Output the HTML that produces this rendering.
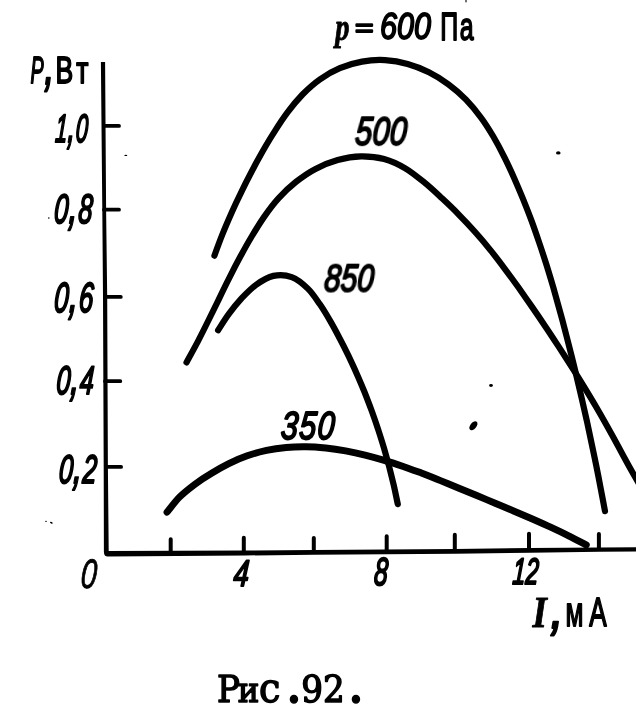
<!DOCTYPE html>
<html lang="ru"><head><meta charset="utf-8"><title>Рис.92</title>
<style>html,body{margin:0;padding:0;background:#fff;}svg{display:block}</style>
</head><body>
<svg width="636" height="723" viewBox="0 0 636 723">
<rect width="636" height="723" fill="#fff"/>
<g fill="#000" stroke="none">
<path d="M100.9 62 L105.1 62 L106.1 209 L107.2 297 L107.9 467 L108.7 551 L245 550.5 L314 550 L385 549.5 L455 549 L530 548.1 L600 547.4 L636 547.2 L636 551.6 L600 551.8 L530 552.8 L455 553.7 L385 554.2 L314 554.7 L245 555.5 L108 556.6 Q104 556.8 103.9 552 L103.7 467 L103 297 L102.3 209 Z"/>
</g>
<g stroke="#000" fill="none" stroke-linecap="round" stroke-linejoin="miter">
<path d="M104 125.9 H119 M104 209.7 H119 M105 296.9 H120.8 M105 381.2 H120.3 M106 466.9 H121.1" stroke-width="3.8"/>
<path d="M170.7 539.3 V553 M243.8 537.8 V553 M313.8 538.1 V552 M386.7 536.3 V551 M454.8 534.8 V551 M529 533.8 V550 M598.9 534 V549" stroke-width="4"/>
</g>
<g stroke="#000" fill="none" stroke-linecap="round" stroke-linejoin="round">
<path d="M214.4 255.7 C215.7 252.1 219.6 241.2 222.5 234.1 C225.3 227.0 228.4 219.9 231.5 212.9 C234.6 205.9 237.9 199.0 241.3 192.1 C244.6 185.2 248.1 178.3 251.7 171.5 C255.2 164.7 258.9 157.9 262.7 151.2 C266.6 144.5 270.5 137.9 274.7 131.4 C278.8 124.9 283.1 118.3 287.7 112.2 C292.3 106.0 297.2 100.0 302.5 94.5 C307.9 89.1 313.6 83.9 319.8 79.5 C326.0 75.1 332.7 71.2 339.8 68.2 C346.8 65.2 354.5 62.9 362.0 61.6 C369.6 60.2 377.5 59.7 385.1 60.1 C392.7 60.5 400.3 61.8 407.6 63.9 C414.9 65.9 422.1 68.8 428.9 72.2 C435.8 75.6 442.4 79.8 448.6 84.4 C454.8 88.9 460.6 94.1 466.0 99.6 C471.3 105.1 476.2 111.0 480.7 117.2 C485.3 123.3 489.4 129.9 493.3 136.5 C497.2 143.1 500.8 150.0 504.2 156.9 C507.7 163.8 510.9 170.8 514.1 177.9 C517.2 184.9 520.2 192.0 523.1 199.1 C526.0 206.3 528.8 213.4 531.5 220.6 C534.1 227.8 536.7 235.1 539.1 242.4 C541.6 249.6 544.0 257.0 546.3 264.3 C548.6 271.6 550.8 279.0 553.0 286.4 C555.1 293.8 557.2 301.2 559.2 308.6 C561.3 316.0 563.3 323.4 565.2 330.9 C567.1 338.3 569.1 345.8 570.9 353.3 C572.8 360.7 574.6 368.2 576.4 375.7 C578.2 383.2 580.0 390.7 581.7 398.2 C583.4 405.7 585.1 413.2 586.8 420.7 C588.4 428.2 590.0 435.7 591.6 443.3 C593.2 450.8 594.8 458.3 596.3 465.9 C597.8 473.4 599.3 481.0 600.7 488.5 C602.2 496.1 604.3 507.4 605.0 511.2" stroke-width="6.2"/>
<path d="M186.5 362.4 C188.4 358.9 194.1 348.6 197.8 341.6 C201.4 334.6 204.9 327.6 208.4 320.5 C211.9 313.5 215.3 306.4 218.8 299.3 C222.2 292.2 225.6 285.1 229.2 278.1 C232.7 271.1 236.3 264.1 240.1 257.1 C243.8 250.2 247.6 243.3 251.7 236.5 C255.7 229.8 259.8 223.0 264.3 216.6 C268.8 210.1 273.5 203.8 278.7 198.1 C284.0 192.3 289.7 186.8 295.8 182.0 C302.0 177.1 308.5 172.5 315.5 168.9 C322.5 165.2 330.1 162.1 337.7 160.0 C345.3 157.9 353.3 156.5 361.1 156.3 C368.8 156.2 376.7 156.9 384.1 158.9 C391.5 160.9 398.6 164.3 405.3 168.3 C412.1 172.3 418.4 177.6 424.6 182.7 C430.8 187.7 436.6 193.3 442.3 198.6 C448.1 204.0 453.6 209.2 459.0 214.8 C464.5 220.3 469.9 226.1 475.1 232.0 C480.4 237.9 485.5 243.9 490.4 250.1 C495.4 256.2 500.1 262.5 504.8 268.8 C509.5 275.0 514.1 281.4 518.7 287.8 C523.2 294.2 527.7 300.7 532.2 307.1 C536.7 313.6 541.1 320.1 545.5 326.7 C549.9 333.2 554.2 339.8 558.5 346.4 C562.8 353.0 567.1 359.6 571.3 366.2 C575.5 372.9 579.7 379.5 583.8 386.3 C587.9 393.0 592.0 399.7 595.9 406.5 C599.9 413.3 603.8 420.2 607.6 427.0 C611.4 433.9 615.2 440.8 619.0 447.7 C622.7 454.7 626.5 461.6 630.3 468.5 C634.1 475.3 640.1 485.6 642.0 489.0" stroke-width="6.2"/>
<path d="M218.1 330.2 C219.9 327.5 225.0 319.1 228.9 313.9 C232.7 308.7 236.6 303.8 241.1 298.9 C245.7 294.1 250.8 288.6 256.2 284.8 C261.5 281.0 267.5 277.2 273.4 275.9 C279.3 274.6 286.0 275.0 291.7 277.1 C297.4 279.2 302.9 283.8 307.6 288.4 C312.3 292.9 316.1 298.9 319.9 304.3 C323.7 309.8 327.0 315.4 330.3 321.1 C333.6 326.7 336.6 332.5 339.6 338.2 C342.7 344.0 345.6 349.8 348.4 355.7 C351.2 361.6 354.0 367.5 356.6 373.5 C359.3 379.5 361.8 385.5 364.3 391.5 C366.7 397.6 369.1 403.7 371.3 409.8 C373.6 416.0 375.7 422.2 377.8 428.4 C379.8 434.6 381.8 440.8 383.7 447.1 C385.5 453.4 387.3 459.7 389.0 466.0 C390.6 472.3 392.2 478.7 393.7 485.0 C395.2 491.4 397.1 501.0 397.8 504.2" stroke-width="6.2"/>
<path d="M167.0 512.2 C169.1 509.6 175.1 501.6 179.7 496.9 C184.4 492.3 189.7 488.2 195.0 484.2 C200.3 480.3 205.9 476.7 211.6 473.3 C217.2 469.8 222.9 466.5 228.8 463.6 C234.8 460.6 240.9 458.0 247.2 455.8 C253.5 453.6 260.0 451.8 266.5 450.4 C273.0 449.0 279.6 448.1 286.2 447.5 C292.8 446.9 299.4 446.7 306.0 446.8 C312.6 446.9 319.2 447.4 325.8 448.0 C332.4 448.7 339.0 449.7 345.6 450.9 C352.1 452.1 358.6 453.5 365.1 455.1 C371.5 456.7 377.9 458.5 384.3 460.4 C390.7 462.3 397.0 464.4 403.2 466.5 C409.5 468.7 415.7 471.0 422.0 473.3 C428.2 475.7 434.4 478.1 440.5 480.6 C446.7 483.1 452.8 485.6 459.0 488.2 C465.1 490.7 471.3 493.3 477.4 495.8 C483.5 498.4 489.7 500.9 495.8 503.5 C501.9 506.0 508.1 508.6 514.2 511.2 C520.3 513.8 526.4 516.4 532.4 519.0 C538.5 521.7 544.6 524.4 550.6 527.2 C556.6 530.0 562.6 532.8 568.6 535.8 C574.5 538.7 583.3 543.4 586.3 544.9" stroke-width="6.9"/>
</g>
<g fill="#000">
<ellipse cx="558.3" cy="152.9" rx="2.3" ry="1.7"/>
<ellipse cx="491.0" cy="385.5" rx="1.9" ry="1.4"/>
<ellipse cx="473.4" cy="425.7" rx="5.2" ry="3.0" transform="rotate(-50 473.4 425.7)"/>
<ellipse cx="125.8" cy="155.4" rx="1.5" ry="0.6"/>
<ellipse cx="48.8" cy="218.0" rx="0.8" ry="0.7"/>
<ellipse cx="46.0" cy="521.2" rx="1.0" ry="0.5"/>
<ellipse cx="51.4" cy="522.7" rx="1.5" ry="0.8" transform="rotate(25 51.4 522.7)"/>
<ellipse cx="466.0" cy="1.0" rx="0.6" ry="1.5"/>
</g>
<g fill="#000" opacity="0.999">
<text transform="translate(54.65 141.50) scale(0.549 1) skewX(-6.0)" font-family='"Liberation Sans", sans-serif' font-size="39.52" font-style="italic" font-weight="normal" stroke="#000" stroke-width="1.80" vector-effect="non-scaling-stroke" stroke-linejoin="round">1<tspan style="font-size:140%">,</tspan>0</text>
<text transform="translate(53.62 222.80) scale(0.618 1) skewX(-6.0)" font-family='"Liberation Sans", sans-serif' font-size="41.17" font-style="italic" font-weight="normal" stroke="#000" stroke-width="1.80" vector-effect="non-scaling-stroke" stroke-linejoin="round">0<tspan style="font-size:140%">,</tspan>8</text>
<text transform="translate(53.60 312.40) scale(0.618 1) skewX(-6.0)" font-family='"Liberation Sans", sans-serif' font-size="42.00" font-style="italic" font-weight="normal" stroke="#000" stroke-width="1.80" vector-effect="non-scaling-stroke" stroke-linejoin="round">0<tspan style="font-size:140%">,</tspan>6</text>
<text transform="translate(55.65 393.70) scale(0.629 1) skewX(-6.0)" font-family='"Liberation Sans", sans-serif' font-size="39.86" font-style="italic" font-weight="normal" stroke="#000" stroke-width="1.80" vector-effect="non-scaling-stroke" stroke-linejoin="round">0<tspan style="font-size:140%">,</tspan>4</text>
<text transform="translate(58.15 483.00) scale(0.636 1) skewX(-6.0)" font-family='"Liberation Sans", sans-serif' font-size="39.86" font-style="italic" font-weight="normal" stroke="#000" stroke-width="1.80" vector-effect="non-scaling-stroke" stroke-linejoin="round">0<tspan style="font-size:140%">,</tspan>2</text>
<text transform="translate(79.96 587.92) scale(0.696 1) skewX(-6.0)" font-family='"Liberation Sans", sans-serif' font-size="41.23" font-style="italic" font-weight="normal" stroke="#000" stroke-width="0.80" vector-effect="non-scaling-stroke" stroke-linejoin="round">0</text>
<text transform="translate(232.94 585.68) scale(0.738 1) skewX(-6.0)" font-family='"Liberation Sans", sans-serif' font-size="37.11" font-style="italic" font-weight="normal" stroke="#000" stroke-width="1.80" vector-effect="non-scaling-stroke" stroke-linejoin="round">4</text>
<text transform="translate(373.61 585.24) scale(0.630 1) skewX(-6.0)" font-family='"Liberation Sans", sans-serif' font-size="38.95" font-style="italic" font-weight="normal" stroke="#000" stroke-width="1.80" vector-effect="non-scaling-stroke" stroke-linejoin="round">8</text>
<text transform="translate(511.99 583.84) scale(0.630 1) skewX(-6.0)" font-family='"Liberation Sans", sans-serif' font-size="36.89" font-style="italic" font-weight="normal" stroke="#000" stroke-width="1.80" vector-effect="non-scaling-stroke" stroke-linejoin="round">12</text>
<text transform="translate(354.49 145.28) scale(0.754 1) skewX(-6.0)" font-family='"Liberation Sans", sans-serif' font-size="40.53" font-style="italic" font-weight="normal" letter-spacing="0.010em" stroke="#000" stroke-width="1.80" vector-effect="non-scaling-stroke" stroke-linejoin="round">500</text>
<text transform="translate(323.57 291.71) scale(0.770 1) skewX(-6.0)" font-family='"Liberation Sans", sans-serif' font-size="38.42" font-style="italic" font-weight="normal" stroke="#000" stroke-width="1.80" vector-effect="non-scaling-stroke" stroke-linejoin="round">850</text>
<text transform="translate(280.36 438.93) scale(0.778 1) skewX(-6.0)" font-family='"Liberation Sans", sans-serif' font-size="39.14" font-style="italic" font-weight="normal" letter-spacing="0.040em" stroke="#000" stroke-width="1.80" vector-effect="non-scaling-stroke" stroke-linejoin="round">350</text>
<text font-family='"Liberation Sans", sans-serif' font-size="20"><tspan x="30.49" y="82.64" font-family='"Liberation Sans", sans-serif' font-size="36.87" font-style="italic" font-weight="normal" textLength="13.14" lengthAdjust="spacingAndGlyphs" stroke="#000" stroke-width="1.80" stroke-linejoin="round">P</tspan><tspan x="43.83" y="84.02" font-family='"Liberation Sans", sans-serif' font-size="59.41" font-style="italic" font-weight="normal" textLength="11.24" lengthAdjust="spacingAndGlyphs" stroke="#000" stroke-width="1.80" stroke-linejoin="round">,</tspan><tspan x="55.61" y="82.80" font-family='"Liberation Sans", sans-serif' font-size="36.57" font-style="normal" font-weight="normal" letter-spacing="0.140em" textLength="36.47" lengthAdjust="spacingAndGlyphs" stroke="#000" stroke-width="1.80" stroke-linejoin="round">Вт</tspan></text>
<text font-family='"Liberation Sans", sans-serif' font-size="20"><tspan x="335.23" y="40.20" font-family='"Liberation Serif", serif' font-size="38.66" font-style="italic" font-weight="bold" textLength="14.26" lengthAdjust="spacingAndGlyphs" stroke="#000" stroke-width="0.90" stroke-linejoin="round">p</tspan> <tspan x="355.03" y="36.04" font-family='"Liberation Sans", sans-serif' font-size="24.14" font-style="normal" font-weight="normal" textLength="18.55" lengthAdjust="spacingAndGlyphs" stroke="#000" stroke-width="1.80" stroke-linejoin="round">=</tspan> <tspan x="380.03" y="38.82" font-family='"Liberation Sans", sans-serif' font-size="37.47" font-style="italic" font-weight="normal" textLength="50.97" lengthAdjust="spacingAndGlyphs" stroke="#000" stroke-width="1.80" stroke-linejoin="round">600</tspan> <tspan x="440.29" y="39.60" font-family='"Liberation Sans", sans-serif' font-size="38.95" font-style="normal" font-weight="normal" letter-spacing="0.060em" textLength="34.82" lengthAdjust="spacingAndGlyphs" stroke="#000" stroke-width="1.80" stroke-linejoin="round">Па</tspan></text>
<text font-family='"Liberation Sans", sans-serif' font-size="20"><tspan x="532.49" y="626.51" font-family='"Liberation Serif", serif' font-size="44.39" font-style="italic" font-weight="bold" textLength="14.37" lengthAdjust="spacingAndGlyphs" stroke="#000" stroke-width="0.90" stroke-linejoin="round">I</tspan><tspan x="549.64" y="627.56" font-family='"Liberation Sans", sans-serif' font-size="59.20" font-style="italic" font-weight="normal" textLength="14.61" lengthAdjust="spacingAndGlyphs" stroke="#000" stroke-width="1.80" stroke-linejoin="round">,</tspan><tspan x="565.54" y="625.50" font-family='"Liberation Sans", sans-serif' font-size="40.04" font-style="normal" font-weight="normal" letter-spacing="0.220em" textLength="46.83" lengthAdjust="spacingAndGlyphs" stroke="#000" stroke-width="1.80" stroke-linejoin="round">мА</tspan></text>
<text transform="translate(0 701.8) scale(0.931 1)" x="233.0 255.3 278.2 306.5 323.7 346.9 373.1" y="0" font-family='"DejaVu Serif", "Liberation Serif", serif' font-size="36.71" font-weight="normal" stroke="#000" stroke-width="1.50" stroke-linejoin="round">Р<tspan font-size="34.88">и</tspan><tspan font-size="41.12">с</tspan><tspan font-size="58.74">.</tspan>92<tspan font-size="58.74">.</tspan></text>
</g>
</svg></body></html>
